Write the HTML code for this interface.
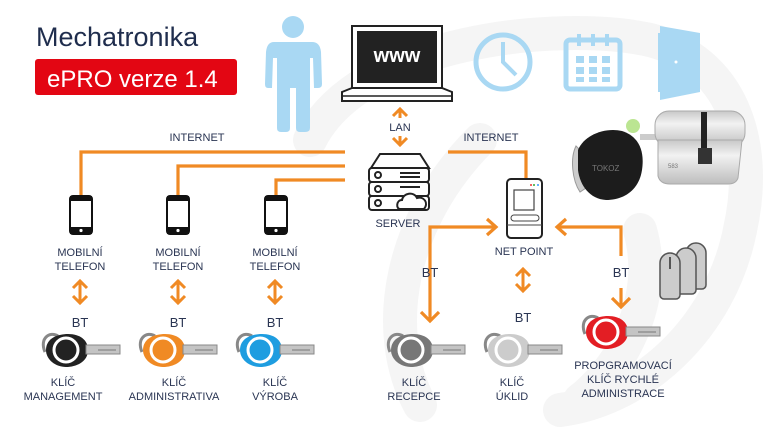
<!DOCTYPE html>
<html><head><meta charset="utf-8"><style>
html,body{margin:0;padding:0;background:#fff;}
svg{display:block;}
text{font-family:"Liberation Sans",sans-serif;fill:#2a3553;}
</style></head><body>
<svg width="768" height="427" viewBox="0 0 768 427" xmlns="http://www.w3.org/2000/svg">
<defs>
<linearGradient id="sil" x1="0" y1="0" x2="0" y2="1">
  <stop offset="0" stop-color="#c8c8c8"/><stop offset="0.35" stop-color="#f2f2f2"/><stop offset="1" stop-color="#bdbdbd"/>
</linearGradient>
<g id="key">
  <path d="M-21,2 C-27,-12 -16,-19 -8,-14" fill="none" stroke="#888" stroke-width="3"/>
  <path d="M-20,0 C-20,-12 -8,-16 2,-16 C14,-16 22,-10 22,0 C22,12 10,17 0,17 C-10,17 -20,10 -20,0 Z" fill="currentColor"/>
  <rect x="20" y="-5" width="34" height="9" fill="#c4c4c4" stroke="#888" stroke-width="1"/>
  <line x1="32" y1="0" x2="50" y2="0" stroke="#777" stroke-width="1"/>
  <circle cx="0" cy="0" r="12" fill="currentColor" stroke="#fff" stroke-width="3"/>
</g>
<g id="phone">
  <rect x="-11" y="0" width="22" height="38" rx="3" fill="#fff" stroke="#111" stroke-width="2"/>
  <rect x="-11" y="0" width="22" height="5" fill="#111"/>
  <rect x="-11" y="31" width="22" height="7" fill="#111"/>
  <circle cx="0" cy="34.5" r="1.6" fill="#fff"/>
</g>
<g id="darr" fill="none" stroke="#f08a24" stroke-width="3">
  <line x1="0" y1="-11" x2="0" y2="11"/>
  <polyline points="-7,-4 0,-11 7,-4"/>
  <polyline points="-7,4 0,11 7,4"/>
</g>
</defs>

<!-- background faint logo -->
<g fill="none" stroke="#f5f5f5" stroke-width="34" stroke-linecap="round">
  <path d="M310,140 C360,40 560,20 650,40 C730,60 760,140 740,230"/>
  <path d="M420,405 C380,330 400,220 480,140"/>
  <path d="M740,230 C720,330 640,400 560,410"/>
  <path d="M640,230 C660,300 620,370 580,400"/>
</g>

<!-- Title -->
<text x="36" y="46" font-size="27" style="fill:#1f2d4d">Mechatronika</text>
<rect x="35" y="59" width="202" height="36" rx="3" fill="#e30613"/>
<text x="47" y="87" font-size="24" style="fill:#fff">ePRO verze 1.4</text>

<!-- Person -->
<g fill="#a9d8f3">
  <circle cx="293" cy="27" r="11"/>
  <path d="M274,42 H312 Q320,42 321,52 L322,84 Q322,88 318,88 L314,88 L313,58 L310,58 L310,128 Q310,132 305,132 L300,132 Q296,132 296,128 L296,88 L290,88 L290,128 Q290,132 286,132 L281,132 Q277,132 277,128 L277,58 L273,58 L272,88 L268,88 Q265,88 265,84 L266,52 Q267,42 274,42 Z"/>
</g>

<!-- Laptop -->
<rect x="352" y="26" width="90" height="62" fill="#fff" stroke="#222" stroke-width="2"/>
<rect x="357" y="31" width="80" height="52" fill="#222"/>
<text x="397" y="62" font-size="20" font-weight="bold" text-anchor="middle" style="fill:#fff">www</text>
<path d="M352,88 L342,92 L342,101 L452,101 L452,92 L442,88 Z" fill="#fff" stroke="#222" stroke-width="2"/>
<line x1="342" y1="96" x2="452" y2="96" stroke="#222" stroke-width="1.5"/>

<!-- Clock -->
<circle cx="503" cy="62" r="27" fill="none" stroke="#a9d8f3" stroke-width="5"/>
<polyline points="503,42 503,62 516,75" fill="none" stroke="#a9d8f3" stroke-width="4"/>
<!-- Calendar -->
<rect x="566" y="40" width="54" height="49" rx="4" fill="none" stroke="#a9d8f3" stroke-width="5"/>
<g fill="#a9d8f3">
<rect x="577" y="34" width="4" height="12"/><rect x="591" y="34" width="4" height="12"/><rect x="605" y="34" width="4" height="12"/>
<rect x="576" y="56" width="8" height="7"/><rect x="589" y="56" width="8" height="7"/><rect x="602" y="56" width="8" height="7"/>
<rect x="576" y="67" width="8" height="7"/><rect x="589" y="67" width="8" height="7"/><rect x="602" y="67" width="8" height="7"/>
<rect x="576" y="77" width="8" height="5"/><rect x="589" y="77" width="8" height="5"/><rect x="602" y="77" width="8" height="5"/>
</g>
<!-- Door -->
<path d="M658,33 L663,33 L663,92 L658,92 Z" fill="#a9d8f3"/>
<path d="M660,26 L700,33 L700,92 L660,100 Z" fill="#a9d8f3"/>
<circle cx="676" cy="62" r="1.5" fill="#fff"/>

<!-- Fob and cylinder -->
<circle cx="633" cy="126" r="7" fill="#8ed44a" opacity="0.6"/>
<path d="M576,146 C570,158 572,180 580,192 L586,188 L580,150 Z" fill="#ccc" stroke="#999"/>
<path d="M578,150 C584,135 605,127 622,131 C638,136 645,150 642,170 C639,190 624,200 606,200 C590,199 580,186 578,170 Z" fill="#1c1c1c"/>
<text x="592" y="171" font-size="8" style="fill:#777">TOKOZ</text>
<rect x="640" y="134" width="18" height="6" fill="#ccc"/>
<rect x="655" y="111" width="90" height="36" rx="14" fill="url(#sil)" stroke="#aaa"/>
<path d="M658,140 L742,140 L738,178 Q736,184 728,184 L670,184 Q660,184 658,176 Z" fill="url(#sil)" stroke="#aaa"/>
<rect x="701" y="112" width="6" height="40" fill="#222"/>
<rect x="698" y="148" width="14" height="16" fill="#333"/>
<text x="668" y="168" font-size="6" style="fill:#777">583</text>

<!-- INTERNET lines -->
<g fill="none" stroke="#f08a24" stroke-width="3.2">
  <polyline points="81,196 81,152 345,152"/>
  <polyline points="178,196 178,166 345,166"/>
  <polyline points="276,196 276,180 345,180"/>
  <polyline points="448,152 526,152 526,178"/>
  <polyline points="430,321 430,227 496,227"/>
  <polyline points="487,219 496,227 487,235"/>
  <polyline points="621,256 621,227 557,227"/>
  <polyline points="566,219 557,227 566,235"/>
  <line x1="621" y1="288" x2="621" y2="306"/>
  <polyline points="612,298 621,307 630,298"/>
  <polyline points="421,312 430,321 439,312"/>
</g>
<text x="197" y="141" font-size="11" text-anchor="middle">INTERNET</text>
<text x="491" y="141" font-size="11" text-anchor="middle">INTERNET</text>

<!-- LAN -->
<g fill="none" stroke="#f08a24" stroke-width="3">
  <polyline points="393,116 400,109 407,116"/><line x1="400" y1="109" x2="400" y2="118"/>
  <polyline points="393,138 400,145 407,138"/><line x1="400" y1="136" x2="400" y2="145"/>
</g>
<text x="400" y="131" font-size="11" text-anchor="middle">LAN</text>

<!-- Server -->
<g fill="#fff" stroke="#222" stroke-width="2">
  <path d="M371,168 L380,154 L420,154 L429,168 Z"/>
  <rect x="369" y="168" width="60" height="14" rx="3"/>
  <rect x="369" y="182" width="60" height="14" rx="3"/>
  <rect x="369" y="196" width="60" height="14" rx="3"/>
  <circle cx="378" cy="175" r="3"/><circle cx="378" cy="189" r="3"/><circle cx="378" cy="203" r="3"/>
  <path d="M400,209 C396,209 396,200 402,200 C403,193 414,191 417,198 C424,196 429,203 424,209 Z"/>
</g>
<g stroke="#222" stroke-width="2"><line x1="400" y1="173" x2="420" y2="173"/><line x1="400" y1="177" x2="420" y2="177"/><line x1="400" y1="187" x2="420" y2="187"/></g>
<text x="398" y="227" font-size="11" text-anchor="middle">SERVER</text>

<!-- Net point -->
<rect x="507" y="179" width="35" height="59" rx="4" fill="#fff" stroke="#222" stroke-width="2"/>
<rect x="514" y="190" width="20" height="20" fill="#fff" stroke="#444" stroke-width="1.2"/>
<rect x="511" y="215" width="28" height="6" rx="3" fill="#fff" stroke="#444"/>
<line x1="507" y1="225" x2="542" y2="225" stroke="#444"/>
<circle cx="531" cy="185" r="1" fill="#e33"/><circle cx="534" cy="185" r="1" fill="#3a3"/><circle cx="538" cy="185" r="1" fill="#39f"/>
<text x="524" y="255" font-size="11" text-anchor="middle">NET POINT</text>

<!-- BT labels right -->
<text x="430" y="277" font-size="13" text-anchor="middle">BT</text>
<text x="621" y="277" font-size="13" text-anchor="middle">BT</text>
<use href="#darr" x="523" y="280"/>
<text x="523" y="322" font-size="13" text-anchor="middle">BT</text>

<!-- Cylinders -->
<g fill="#ccc" stroke="#555" stroke-width="1.5">
  <path d="M686,253 a10,10 0 0 1 20,0 v32 a4,4 0 0 1 -4,4 h-12 a4,4 0 0 1 -4,-4 Z"/>
  <path d="M676,258 a10,10 0 0 1 20,0 v32 a4,4 0 0 1 -4,4 h-12 a4,4 0 0 1 -4,-4 Z"/>
  <path d="M660,263 a10,10 0 0 1 20,0 v32 a4,4 0 0 1 -4,4 h-12 a4,4 0 0 1 -4,-4 Z"/>
</g>
<line x1="670" y1="257" x2="670" y2="269" stroke="#555" stroke-width="2"/>

<!-- Phones -->
<use href="#phone" x="81" y="196"/>
<use href="#phone" x="178" y="196"/>
<use href="#phone" x="276" y="196"/>
<g font-size="11" text-anchor="middle">
<text x="80" y="256">MOBILNÍ</text><text x="80" y="270">TELEFON</text>
<text x="178" y="256">MOBILNÍ</text><text x="178" y="270">TELEFON</text>
<text x="275" y="256">MOBILNÍ</text><text x="275" y="270">TELEFON</text>
</g>
<use href="#darr" x="80" y="292"/>
<use href="#darr" x="178" y="292"/>
<use href="#darr" x="275" y="292"/>
<g font-size="13" text-anchor="middle">
<text x="80" y="327">BT</text><text x="178" y="327">BT</text><text x="275" y="327">BT</text>
</g>

<!-- Keys -->
<use href="#key" x="66" y="350" style="color:#222"/>
<use href="#key" x="163" y="350" style="color:#f08a24"/>
<use href="#key" x="260" y="350" style="color:#1e9de0"/>
<use href="#key" x="411" y="350" style="color:#777"/>
<use href="#key" x="508" y="350" style="color:#ccc"/>
<use href="#key" x="606" y="332" style="color:#e31e24"/>

<g font-size="11" text-anchor="middle">
<text x="63" y="386">KLÍČ</text><text x="63" y="400">MANAGEMENT</text>
<text x="174" y="386">KLÍČ</text><text x="174" y="400">ADMINISTRATIVA</text>
<text x="275" y="386">KLÍČ</text><text x="275" y="400">VÝROBA</text>
<text x="414" y="386">KLÍČ</text><text x="414" y="400">RECEPCE</text>
<text x="512" y="386">KLÍČ</text><text x="512" y="400">ÚKLID</text>
<text x="623" y="369">PROPGRAMOVACÍ</text><text x="623" y="383">KLÍČ RYCHLÉ</text><text x="623" y="397">ADMINISTRACE</text>
</g>
</svg>
</body></html>
